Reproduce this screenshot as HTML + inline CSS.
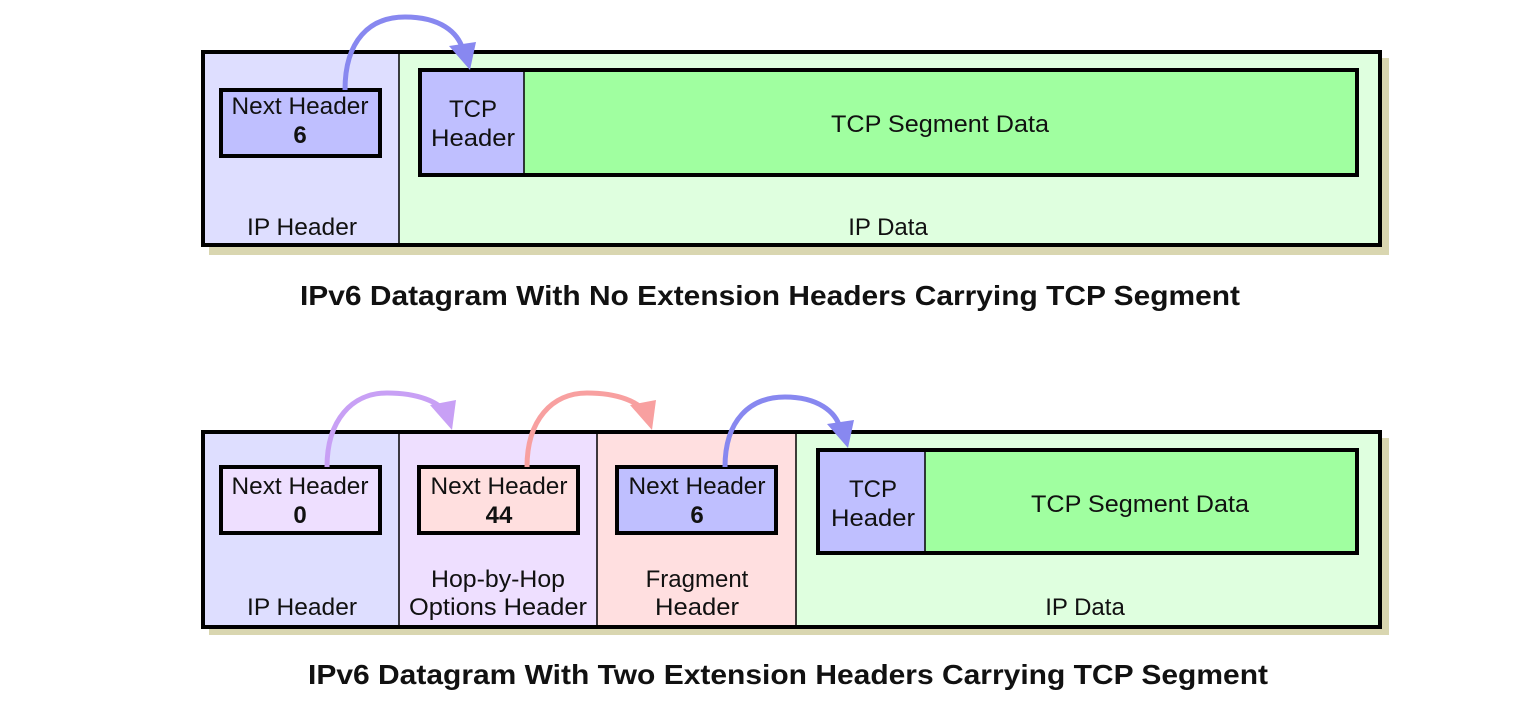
<!DOCTYPE html>
<html><head><meta charset="utf-8"><style>
html,body{margin:0;padding:0;background:#fff;}
svg{display:block;}
text{font-family:"Liberation Sans",Arial,sans-serif;fill:#111;}
</style></head><body>
<svg width="1536" height="702" viewBox="0 0 1536 702" xmlns="http://www.w3.org/2000/svg">
<!-- TOP -->
<rect x="209" y="58" width="1180" height="197" fill="#d9d6b0"/>
<rect x="203" y="52" width="1177" height="193" fill="#dfffdf" stroke="#000" stroke-width="4"/>
<rect x="205" y="54" width="194" height="189" fill="#dedeff"/>
<line x1="399" y1="54" x2="399" y2="243" stroke="#000" stroke-width="1.5"/>
<rect x="221" y="90" width="159" height="66" fill="#bfbfff" stroke="#000" stroke-width="4"/>
<text x="300" y="114" font-size="24" text-anchor="middle" textLength="137" lengthAdjust="spacingAndGlyphs">Next Header</text>
<text x="300" y="143" font-size="24" font-weight="bold" text-anchor="middle">6</text>
<rect x="420" y="70" width="937" height="105" fill="#a0ffa0" stroke="#000" stroke-width="4"/>
<rect x="422" y="72" width="102" height="101" fill="#bfbfff"/>
<line x1="524" y1="72" x2="524" y2="173" stroke="#000" stroke-width="1.5"/>
<text x="473" y="117" font-size="24" text-anchor="middle">TCP</text>
<text x="473" y="146" font-size="24" text-anchor="middle" textLength="84" lengthAdjust="spacingAndGlyphs">Header</text>
<text x="940" y="132" font-size="24" text-anchor="middle" textLength="218" lengthAdjust="spacingAndGlyphs">TCP Segment Data</text>
<text x="302" y="235" font-size="24" text-anchor="middle" textLength="110" lengthAdjust="spacingAndGlyphs">IP Header</text>
<text x="888" y="235" font-size="24" text-anchor="middle">IP Data</text>
<path d="M345,90 C345,40 370,17 405,17 C440,17 458,32 463,50" fill="none" stroke="#8888f0" stroke-width="5"/>
<path d="M449,46 L476,42 L470,70 z" fill="#8888f0"/>
<text x="770" y="305" font-size="28" font-weight="bold" text-anchor="middle" textLength="940" lengthAdjust="spacingAndGlyphs">IPv6 Datagram With No Extension Headers Carrying TCP Segment</text>

<!-- BOTTOM -->
<rect x="209" y="438" width="1180" height="197" fill="#d9d6b0"/>
<rect x="203" y="432" width="1177" height="195" fill="#dfffdf" stroke="#000" stroke-width="4"/>
<rect x="205" y="434" width="194" height="191" fill="#dedeff"/>
<rect x="399" y="434" width="198" height="191" fill="#eedfff"/>
<rect x="597" y="434" width="199" height="191" fill="#ffdfe0"/>
<line x1="399" y1="434" x2="399" y2="625" stroke="#000" stroke-width="1.5"/>
<line x1="597" y1="434" x2="597" y2="625" stroke="#000" stroke-width="1.5"/>
<line x1="796" y1="434" x2="796" y2="625" stroke="#000" stroke-width="1.5"/>
<rect x="221" y="467" width="159" height="66" fill="#eedfff" stroke="#000" stroke-width="4"/>
<rect x="419" y="467" width="159" height="66" fill="#ffdfdf" stroke="#000" stroke-width="4"/>
<rect x="617" y="467" width="159" height="66" fill="#bfbfff" stroke="#000" stroke-width="4"/>
<text x="300" y="494" font-size="24" text-anchor="middle" textLength="137" lengthAdjust="spacingAndGlyphs">Next Header</text>
<text x="300" y="523" font-size="24" font-weight="bold" text-anchor="middle">0</text>
<text x="499" y="494" font-size="24" text-anchor="middle" textLength="137" lengthAdjust="spacingAndGlyphs">Next Header</text>
<text x="499" y="523" font-size="24" font-weight="bold" text-anchor="middle">44</text>
<text x="697" y="494" font-size="24" text-anchor="middle" textLength="137" lengthAdjust="spacingAndGlyphs">Next Header</text>
<text x="697" y="523" font-size="24" font-weight="bold" text-anchor="middle">6</text>
<rect x="818" y="450" width="539" height="103" fill="#a0ffa0" stroke="#000" stroke-width="4"/>
<rect x="820" y="452" width="105" height="99" fill="#bfbfff"/>
<line x1="925" y1="452" x2="925" y2="551" stroke="#000" stroke-width="1.5"/>
<text x="873" y="497" font-size="24" text-anchor="middle">TCP</text>
<text x="873" y="526" font-size="24" text-anchor="middle" textLength="84" lengthAdjust="spacingAndGlyphs">Header</text>
<text x="1140" y="512" font-size="24" text-anchor="middle" textLength="218" lengthAdjust="spacingAndGlyphs">TCP Segment Data</text>
<text x="302" y="615" font-size="24" text-anchor="middle" textLength="110" lengthAdjust="spacingAndGlyphs">IP Header</text>
<text x="498" y="587" font-size="24" text-anchor="middle" textLength="134" lengthAdjust="spacingAndGlyphs">Hop-by-Hop</text>
<text x="498" y="615" font-size="24" text-anchor="middle" textLength="178" lengthAdjust="spacingAndGlyphs">Options Header</text>
<text x="697" y="587" font-size="24" text-anchor="middle">Fragment</text>
<text x="697" y="615" font-size="24" text-anchor="middle" textLength="84" lengthAdjust="spacingAndGlyphs">Header</text>
<text x="1085" y="615" font-size="24" text-anchor="middle">IP Data</text>
<path d="M327,467 C327,420 352,393 387,393 C420,393 438,403 443,410" fill="none" stroke="#c8a0f5" stroke-width="5"/>
<path d="M430,405 L456,400 L452,430 z" fill="#c8a0f5"/>
<path d="M527,467 C527,420 552,393 587,393 C620,393 638,403 643,410" fill="none" stroke="#f8a0a0" stroke-width="5"/>
<path d="M630,405 L656,400 L652,430 z" fill="#f8a0a0"/>
<path d="M725,467 C725,420 750,397 785,397 C818,397 836,412 840,428" fill="none" stroke="#8888f0" stroke-width="5"/>
<path d="M827,424 L854,420 L848,448 z" fill="#8888f0"/>
<text x="788" y="684" font-size="28" font-weight="bold" text-anchor="middle" textLength="960" lengthAdjust="spacingAndGlyphs">IPv6 Datagram With Two Extension Headers Carrying TCP Segment</text>
</svg>
</body></html>
